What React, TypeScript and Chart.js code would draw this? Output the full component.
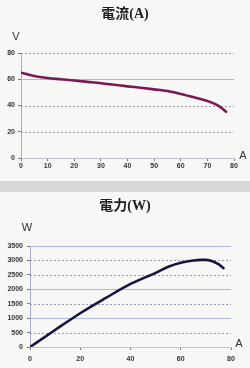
import React, { useEffect, useRef } from "react";
import { Chart, registerables } from "chart.js";

Chart.register(...registerables);

// Top chart: voltage vs current
const currentA = [0, 2, 5, 10, 15, 20, 25, 30, 35, 40, 45, 50, 55, 60, 65, 70, 73, 75, 77];
const voltageV = [65, 64, 62.5, 61, 60, 59, 58, 57, 55.8, 54.6, 53.5, 52.3, 51, 48.8, 46.2, 43.4, 41, 38.6, 35.3];

// Bottom chart: power vs current
const currentB = [0, 10, 20, 30, 40, 50, 55, 60, 65, 68, 70, 72, 75, 77];
const powerW = [0, 590, 1170, 1690, 2185, 2570, 2780, 2920, 3000, 3020, 3020, 2990, 2870, 2730];

const titleTop = "電流(A)";
const titleBottom = "電力(W)";
const unitTopY = "V";
const unitBottomY = "W";
const unitX = "A";
const blueGridTop = [60];
const blueGridBottom = [3500, 2000, 1000];

const tickFont = { family: "'Liberation Sans', Arial, sans-serif", size: 7, weight: "bold" as const };

function makeDecor(title: string, yUnit: string, blueLines: number[], yUnitOff: [number, number], xUnitOff: [number, number]) {
  return {
    id: "decor",
    beforeDatasetsDraw(chart: any) {
      const { ctx, chartArea } = chart;
      const y = chart.scales.y;
      ctx.save();
      y.ticks.forEach((t: any) => {
        if (t.value === y.min) return;
        const py = Math.round(y.getPixelForValue(t.value)) + 0.5;
        const blue = blueLines.includes(t.value);
        ctx.beginPath();
        ctx.lineWidth = 1;
        ctx.strokeStyle = blue ? "#aeb6ea" : "#9a9aa8";
        ctx.setLineDash(blue ? [] : [2, 2]);
        ctx.moveTo(chartArea.left, py);
        ctx.lineTo(chartArea.right, py);
        ctx.stroke();
      });
      ctx.restore();
    },
    afterDraw(chart: any) {
      const { ctx, chartArea, width } = chart;
      ctx.save();
      ctx.fillStyle = "#1e1e1e";
      ctx.textAlign = "center";
      ctx.textBaseline = "middle";
      ctx.font = "bold 14px 'Liberation Serif', 'Noto Sans CJK TC', serif";
      ctx.fillText(title, width / 2, 14);
      ctx.fillStyle = "#333";
      ctx.font = "11px 'Liberation Sans', Arial, sans-serif";
      ctx.fillText(yUnit, chartArea.left + yUnitOff[0], chartArea.top + yUnitOff[1]);
      ctx.fillText(unitX, chartArea.right + xUnitOff[0], chartArea.bottom + xUnitOff[1]);
      ctx.restore();
    },
  };
}

function makeChart(
  canvas: HTMLCanvasElement,
  xs: number[],
  ys: number[],
  color: string,
  opts: {
    title: string; yUnit: string; blue: number[]; xStep: number; yMax: number; yStep: number;
    yWidth: number; xHeight: number; padTop: number; padRight: number; yPad: number; xPad: number;
    yUnitOff: [number, number]; xUnitOff: [number, number];
  }
) {
  return new Chart(canvas, {
    type: "line",
    data: {
      datasets: [
        {
          data: xs.map((x, i) => ({ x, y: ys[i] })),
          borderColor: color,
          borderWidth: 2.6,
          pointRadius: 0,
          cubicInterpolationMode: "monotone",
          borderCapStyle: "round",
          fill: false,
        },
      ],
    },
    options: {
      animation: false,
      responsive: false,
      events: [],
      layout: { padding: { top: opts.padTop, right: opts.padRight, left: 0, bottom: 0 } },
      plugins: { legend: { display: false }, tooltip: { enabled: false }, title: { display: false } },
      scales: {
        x: {
          type: "linear",
          min: 0,
          max: 80,
          afterFit: (s: any) => { s.height = opts.xHeight; },
          ticks: { stepSize: opts.xStep, font: tickFont, color: "#333", padding: opts.xPad, maxRotation: 0, autoSkip: false, callback: (v: any) => String(v) },
          grid: { display: true, drawOnChartArea: false, drawTicks: true, tickLength: 3, tickColor: "#777" },
          border: { display: true, color: "#c4c4cc", width: 1 },
        },
        y: {
          type: "linear",
          min: 0,
          max: opts.yMax,
          afterFit: (s: any) => { s.width = opts.yWidth; },
          ticks: { stepSize: opts.yStep, font: tickFont, color: "#333", padding: opts.yPad, autoSkip: false, callback: (v: any) => String(v) },
          grid: { display: true, drawOnChartArea: false, drawTicks: true, tickLength: 3, tickColor: "#777" },
          border: { display: true, color: "#a9aad6", width: 1 },
        },
      },
    },
    plugins: [makeDecor(opts.title, opts.yUnit, opts.blue, opts.yUnitOff, opts.xUnitOff)],
  } as any);
}

export default function App() {
  const topRef = useRef<HTMLCanvasElement>(null);
  const botRef = useRef<HTMLCanvasElement>(null);

  useEffect(() => {
    const c1 = makeChart(topRef.current!, currentA, voltageV, "#7a1a55", {
      title: titleTop, yUnit: unitTopY, blue: blueGridTop, xStep: 10, yMax: 80, yStep: 20,
      yWidth: 21, xHeight: 22, padTop: 53, padRight: 16, yPad: 3, xPad: 1,
      yUnitOff: [-5, -16], xUnitOff: [9, -2],
    });
    const c2 = makeChart(botRef.current!, currentB, powerW, "#15153f", {
      title: titleBottom, yUnit: unitBottomY, blue: blueGridBottom, xStep: 20, yMax: 3500, yStep: 500,
      yWidth: 30, xHeight: 21, padTop: 54, padRight: 19, yPad: 4, xPad: 5,
      yUnitOff: [-3, -18], xUnitOff: [8, -3],
    });
    return () => {
      c1.destroy();
      c2.destroy();
    };
  }, []);

  return (
    <div style={{ position: "absolute", left: 0, top: 0, width: 250, height: 368, background: "#f7f7f6", overflow: "hidden" }}>
      <canvas ref={topRef} width={250} height={180} style={{ position: "absolute", left: 0, top: 0, display: "block" }} />
      <div style={{ position: "absolute", left: 0, top: 181, width: 250, height: 11, background: "#d7d7d6" }} />
      <canvas ref={botRef} width={250} height={176} style={{ position: "absolute", left: 0, top: 192, display: "block" }} />
    </div>
  );
}
